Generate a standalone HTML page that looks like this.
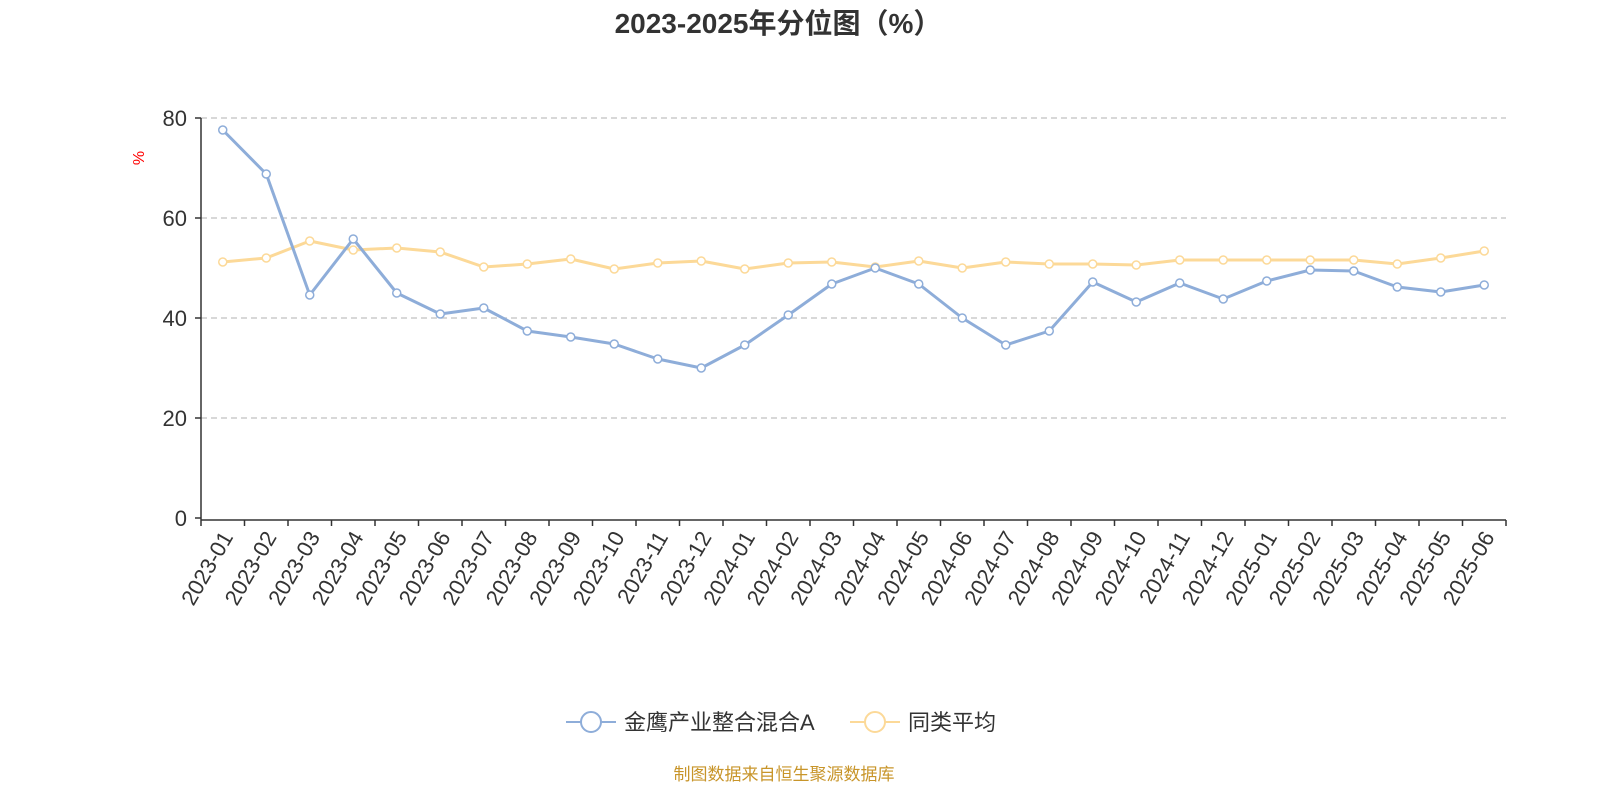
<!DOCTYPE html>
<html><head><meta charset="utf-8">
<style>
html,body{margin:0;padding:0;background:#fff;}
svg{display:block;font-family:"Liberation Sans","Noto Sans CJK SC",sans-serif;}
</style></head>
<body>
<svg id="chart" width="1600" height="800" viewBox="0 0 1600 800" xmlns="http://www.w3.org/2000/svg">
<text x="778" y="33" text-anchor="middle" font-size="28" font-weight="bold" fill="#333">2023-2025年分位图（%）</text>
<text x="140" y="158" font-size="16" fill="red" transform="rotate(-90 140 158)" text-anchor="middle" dominant-baseline="middle">%</text>
<g id="grid"></g>
<g id="axes"></g>
<g id="series"></g>
<g>
  <g>
    <line x1="566" y1="722" x2="616" y2="722" stroke="#8eadd9" stroke-width="2"/>
    <circle cx="591" cy="722" r="10" fill="#fff" stroke="#8eadd9" stroke-width="2"/>
    <text x="624" y="730" font-size="22" fill="#333">金鹰产业整合混合A</text>
  </g>
  <g>
    <line x1="850" y1="722" x2="900" y2="722" stroke="#fcd998" stroke-width="2"/>
    <circle cx="875" cy="722" r="10" fill="#fff" stroke="#fcd998" stroke-width="2"/>
    <text x="908" y="730" font-size="22" fill="#333">同类平均</text>
  </g>
</g>
<text x="784" y="780" text-anchor="middle" font-size="17" fill="#c8952a">制图数据来自恒生聚源数据库</text>
</svg>
<script>
const categories=["2023-01","2023-02","2023-03","2023-04","2023-05","2023-06","2023-07","2023-08","2023-09","2023-10","2023-11","2023-12","2024-01","2024-02","2024-03","2024-04","2024-05","2024-06","2024-07","2024-08","2024-09","2024-10","2024-11","2024-12","2025-01","2025-02","2025-03","2025-04","2025-05","2025-06"];
const fundValues=[77.6,68.8,44.6,55.8,45,40.8,42,37.4,36.2,34.8,31.8,30,34.6,40.6,46.8,50,46.8,40,34.6,37.4,47.2,43.2,47,43.8,47.4,49.6,49.4,46.2,45.2,46.6];
const peerValues=[51.2,52,55.4,53.6,54,53.2,50.2,50.8,51.8,49.8,51,51.4,49.8,51,51.2,50.2,51.4,50,51.2,50.8,50.8,50.6,51.6,51.6,51.6,51.6,51.6,50.8,52,53.4];
const yTicks=[0,20,40,60,80];

const NS="http://www.w3.org/2000/svg";
const x0=201,x1=1506,yTop=118,yBot=518,yMax=80;
const band=(x1-x0)/categories.length;
function xs(i){return x0+band*(i+0.5);}
function ys(v){return yBot-(v/yMax)*(yBot-yTop);}
function mk(tag,attrs,parent){const e=document.createElementNS(NS,tag);for(const k in attrs)e.setAttribute(k,attrs[k]);parent.appendChild(e);return e;}

const grid=document.getElementById('grid'),axes=document.getElementById('axes'),series=document.getElementById('series');
yTicks.forEach(t=>{
  const y=ys(t);
  if(t>0){const g=mk('line',{x1:x0,x2:x1,y1:y,y2:y,stroke:'#ccc','stroke-dasharray':'6,4','stroke-width':1.5},grid);
  
  }
  const tk=mk('line',{x1:x0-6,x2:x0,y1:y,y2:y,stroke:'#333','stroke-width':1.5},axes);
  
  
  const lb=mk('text',{x:x0-14,y:y+8,'text-anchor':'end','font-size':22,fill:'#333'},axes);
  lb.textContent=t;
  
  
});
const ya=mk('line',{x1:x0,x2:x0,y1:yTop,y2:yBot+2,stroke:'#333','stroke-width':1.5},axes);


const xa=mk('line',{x1:x0,x2:x1,y1:yBot+2,y2:yBot+2,stroke:'#333','stroke-width':1.5},axes);


for(let i=0;i<=categories.length;i++){
  const x=x0+band*i;
  const tk=mk('line',{x1:x,x2:x,y1:yBot+2,y2:yBot+8,stroke:'#333','stroke-width':1.5},axes);
  
  
}
categories.forEach((c,i)=>{
  const x=xs(i)+6,y=yBot+16;
  const lb=mk('text',{x:x,y:y,'text-anchor':'end','font-size':22,fill:'#333',transform:`rotate(-60 ${x} ${y})`,'dominant-baseline':'middle'},axes);
  lb.textContent=c;
  
  
});
function drawSeries(vals,color,name){
  const g=mk('g',{},series);
  
  
  const pts=vals.map((v,i)=>xs(i)+','+ys(v)).join(' ');
  const pl=mk('polyline',{points:pts,fill:'none',stroke:color,'stroke-width':3,'stroke-linejoin':'round'},g);
  
  
  vals.forEach((v,i)=>{
    const c=mk('circle',{cx:xs(i),cy:ys(v),r:4,fill:'#fff',stroke:color,'stroke-width':1.5},g);
    
    
  });
}
drawSeries(peerValues,'#fcd998','peer-average-series');
drawSeries(fundValues,'#8eadd9','fund-series');
</script>
</body></html>
